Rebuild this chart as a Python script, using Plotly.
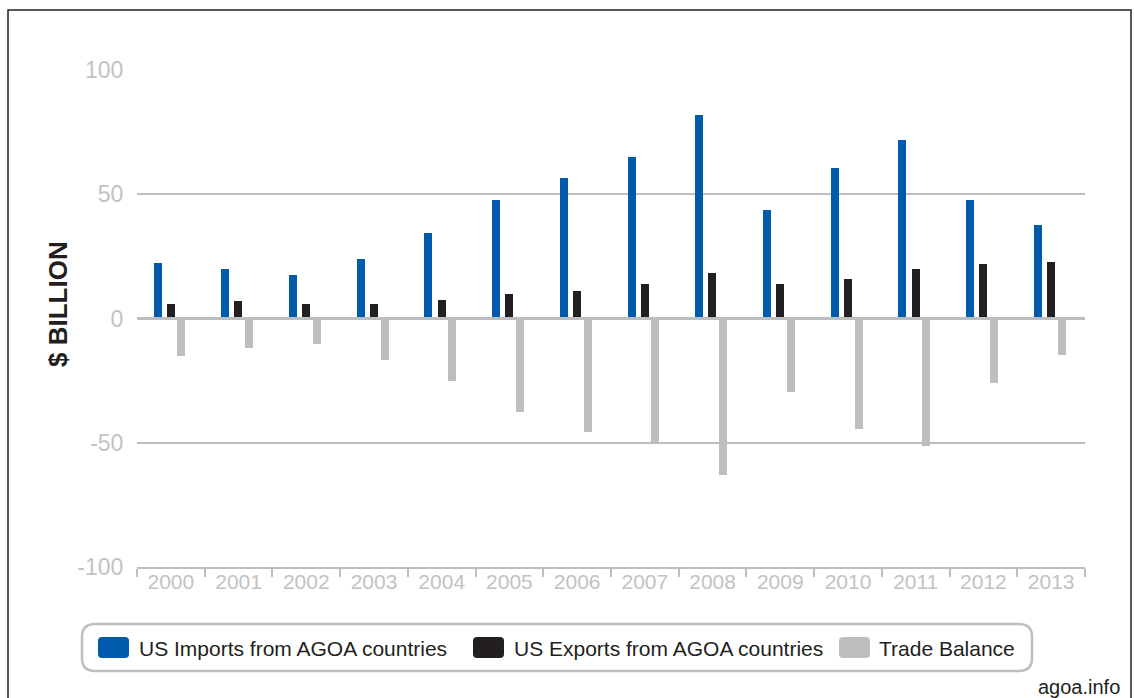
import plotly.graph_objects as go

# ---- data (US $ billion) ----
years = ["2000", "2001", "2002", "2003", "2004", "2005", "2006",
         "2007", "2008", "2009", "2010", "2011", "2012", "2013"]
imports = [22.5, 20.0, 17.7, 24.1, 34.4, 47.8, 56.7, 64.8, 81.9, 43.8, 60.6, 72.0, 47.8, 37.7]
exports = [5.7, 7.2, 5.7, 5.8, 7.4, 9.7, 10.9, 13.8, 18.2, 14.0, 16.0, 19.8, 21.9, 22.7]
balance = [-14.9, -12.0, -10.4, -16.7, -25.2, -37.5, -45.6, -50.6, -63.0, -29.4, -44.3, -51.2, -25.8, -14.5]

series_names = ["US Imports from AGOA countries", "US Exports from AGOA countries", "Trade Balance"]
y_tickvals = [-100, -50, 0, 50, 100]
y_ticktext = ["-100", "-50", "0", "50", "100"]
y_title = "$ BILLION"
source_text = "agoa.info"

# ---- styles ----
BLUE = "#005BAC"
BLACK = "#231F20"
GREY = "#BCBEC0"
TICK_GREY = "#C2C2C4"
FONT = "Liberation Sans, Arial, sans-serif"
colors = [BLUE, BLACK, GREY]
offsets = [-0.255, -0.062, 0.098]
bar_w = 0.118

W, H = 1134, 698
ML, MR, MT, MB = 137, 49, 70, 131
PW, PH = W - ML - MR, H - MT - MB


def px(x):
    return (x - ML) / PW


def py(y):
    return (H - MB - y) / PH


def rounded_rect(x0, y0, x1, y1, r):
    """Rounded rectangle path in paper coords from pixel coords."""
    rx, ry = r / PW, r / PH
    X0, X1 = px(x0), px(x1)
    Yt, Yb = py(y0), py(y1)
    return (f"M{X0 + rx},{Yt} L{X1 - rx},{Yt} Q{X1},{Yt} {X1},{Yt - ry} "
            f"L{X1},{Yb + ry} Q{X1},{Yb} {X1 - rx},{Yb} "
            f"L{X0 + rx},{Yb} Q{X0},{Yb} {X0},{Yb + ry} "
            f"L{X0},{Yt - ry} Q{X0},{Yt} {X0 + rx},{Yt} Z")


fig = go.Figure()
for name, vals, col, off in zip(series_names, [imports, exports, balance], colors, offsets):
    fig.add_trace(go.Bar(
        x=years, y=vals, name=name, marker=dict(color=col, line=dict(width=0)),
        offset=off, width=bar_w, showlegend=False,
    ))

shapes = []
# zero line drawn above the bars
shapes.append(dict(type="line", xref="paper", yref="y", x0=0, x1=1, y0=0, y1=0,
                   line=dict(color=GREY, width=3), layer="above"))
# outer frame
shapes.append(dict(type="rect", xref="paper", yref="paper",
                   x0=px(8), x1=px(1131), y0=py(10), y1=py(705),
                   line=dict(color="#231F20", width=1.5), layer="below"))
# legend box
shapes.append(dict(type="path", xref="paper", yref="paper",
                   path=rounded_rect(82, 624, 1032, 671, 13),
                   line=dict(color=GREY, width=2.5)))

annotations = []
swatch_x = [98, 473, 839]
text_x = [137, 512, 877]
for name, col, sx, tx in zip(series_names, colors, swatch_x, text_x):
    shapes.append(dict(type="path", xref="paper", yref="paper",
                       path=rounded_rect(sx, 637, sx + 31, 658, 4),
                       fillcolor=col, line=dict(width=0)))
    annotations.append(dict(text=name, xref="paper", yref="paper", x=px(tx), y=py(648),
                            xanchor="left", yanchor="middle", showarrow=False,
                            font=dict(family=FONT, size=21, color=BLACK)))

annotations.append(dict(text=f"<b>{y_title}</b>", xref="paper", yref="paper",
                        x=px(58), y=py(304), textangle=-90, showarrow=False,
                        xanchor="center", yanchor="middle",
                        font=dict(family=FONT, size=26, color=BLACK)))
annotations.append(dict(text=source_text, xref="paper", yref="paper",
                        x=px(1122), y=py(687), xanchor="right", yanchor="middle",
                        showarrow=False, font=dict(family=FONT, size=20, color=BLACK)))

fig.update_layout(
    width=W, height=H,
    margin=dict(l=ML, r=MR, t=MT, b=MB, pad=0),
    paper_bgcolor="white", plot_bgcolor="white",
    barmode="overlay", bargap=0,
    shapes=shapes, annotations=annotations,
    font=dict(family=FONT),
)
fig.update_xaxes(
    type="category", showgrid=False, zeroline=False,
    showline=True, linecolor=GREY, linewidth=2,
    ticks="outside", tickson="boundaries", ticklen=8, tickwidth=2, tickcolor=GREY,
    ticklabelstandoff=-5,
    tickfont=dict(family=FONT, size=21, color=TICK_GREY),
)
fig.update_yaxes(
    range=[-100, 100], tickvals=y_tickvals, ticktext=y_ticktext,
    showgrid=True, gridcolor=GREY, gridwidth=2, zeroline=False, showline=False,
    ticks="outside", ticklen=8, tickcolor="rgba(0,0,0,0)",
    tickfont=dict(family=FONT, size=23, color=TICK_GREY),
)

fig.write_html("out.html")
